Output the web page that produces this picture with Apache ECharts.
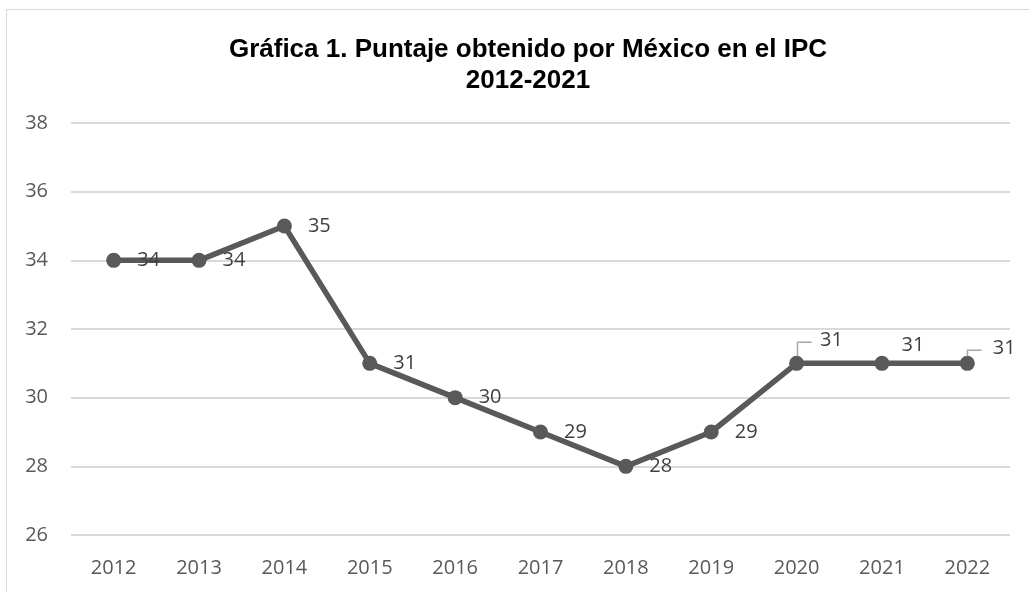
<!DOCTYPE html>
<html>
<head>
<meta charset="utf-8">
<script src="https://cdn.jsdelivr.net/npm/echarts@6/dist/echarts.min.js"></script>
<style>
html,body{margin:0;padding:0;background:#fff;}
#frame{position:absolute;left:6px;top:9px;width:1040px;height:600px;border:1px solid #d9d9d9;box-sizing:border-box;}
#chart{position:absolute;left:0;top:0;width:1029px;height:592px;}
</style>
</head>
<body>
<div id="frame"></div>
<div id="chart"></div>
<script>
const years = ['2012','2013','2014','2015','2016','2017','2018','2019','2020','2021','2022'];
const scores = [34, 34, 35, 31, 30, 29, 28, 29, 31, 31, 31];
const yTicks = [26, 28, 30, 32, 34, 36, 38];
const titleText = 'Gráfica 1. Puntaje obtenido por México en el IPC\n2012-2021';

// label placement (style only)
const labelShift = {8: [0, -23], 9: [-4, -18], 10: [2, -15]};
const leaderIdx = [8, 10];

const chart = echarts.init(document.getElementById('chart'), null, {renderer: 'canvas'});
const option = {
  animation: false,
  title: {
    text: titleText,
    left: 523,
    top: 29,
    textAlign: 'center',
    textStyle: {fontFamily: 'Liberation Sans', fontWeight: 'bold', fontSize: 26, color: '#000', lineHeight: 31}
  },
  grid: {left: 71, right: 19, top: 123, bottom: 57},
  xAxis: {
    type: 'category',
    data: years,
    boundaryGap: true,
    axisLine: {show: false},
    axisTick: {show: false},
    axisLabel: {color: '#595959', fontFamily: 'Open Sans', fontSize: 20, margin: 23}
  },
  yAxis: {
    type: 'value',
    min: yTicks[0],
    max: yTicks[yTicks.length - 1],
    interval: 2,
    axisLine: {show: false},
    axisTick: {show: false},
    splitLine: {lineStyle: {color: '#d9d9d9', width: 2}},
    axisLabel: {color: '#595959', fontFamily: 'Open Sans', fontSize: 20, margin: 23, align: 'right'}
  },
  series: [{
    type: 'line',
    data: scores,
    symbol: 'circle',
    symbolSize: 15,
    lineStyle: {color: '#595959', width: 5.5},
    itemStyle: {color: '#595959'},
    label: {
      show: true,
      position: 'right',
      distance: 16,
      color: '#404040',
      fontFamily: 'Open Sans',
      fontSize: 20
    },
    labelLayout: function (p) {
      const s = labelShift[p.dataIndex];
      return s ? {dx: s[0], dy: s[1]} : {};
    }
  }]
};
chart.setOption(option);

// elbow leader lines for lifted labels, positioned through the chart's scales
const leaders = leaderIdx.map(function (i) {
  const pt = chart.convertToPixel({seriesIndex: 0}, [i, scores[i]]);
  const x = Math.round(pt[0]) + 0.5;
  const yTop = pt[1] + labelShift[i][1] + 2;
  return {
    type: 'polyline',
    silent: true,
    z: 10,
    shape: {points: [[x, pt[1] - 7], [x, yTop], [x + 14, yTop]]},
    style: {stroke: '#a6a6a6', lineWidth: 1.5, fill: null}
  };
});
chart.setOption({graphic: leaders});
</script>
</body>
</html>
